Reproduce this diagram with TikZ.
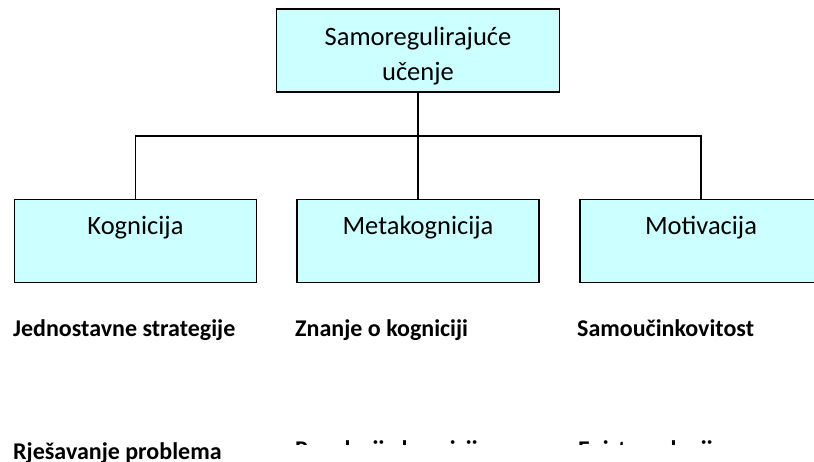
\documentclass[tikz,border=0pt]{standalone}
\usepackage{fontspec}
\setmainfont{Carlito}
\definecolor{boxfill}{RGB}{204,255,255}
\begin{document}
\begin{tikzpicture}[x=1pt,y=-1pt,
  box/.style={draw=black, line width=1.5pt, fill=boxfill, minimum width=242pt,
    minimum height=83pt, inner sep=0pt, font=\fontsize{26.5}{30}\selectfont,
    text height=10pt, text depth=24pt},
  link/.style={draw=black, line width=1.5pt},
  toptext/.style={inner sep=0pt, align=center, font=\fontsize{26.5}{35}\selectfont},
  item/.style={anchor=base west, inner sep=0pt, font=\bfseries\fontsize{24}{28}\selectfont}]
\useasboundingbox (0,0) rectangle (814,461);
% top box
\node[box, minimum width=283pt, text height=0pt, text depth=0pt] (top) at (418,50.5) {};
\node[toptext] (toplabel) at (418,55.5) {\rule{0pt}{20pt}Samoregulirajuće\\učenje\rule[-6pt]{0pt}{6pt}};
% child boxes
\node[box] (kog) at (135.5,241) {Kognicija};
\node[box] (meta) at (418,241) {Metakognicija};
\node[box] (mot) at (701,241) {Motivacija};
% connectors
\coordinate (bus) at (418,136);
\draw[link] (top.south) -- (meta.north);
\draw[link] (kog.north) |- (bus) -| (mot.north);
% items
\node[item] (i1) at (13,336) {Jednostavne strategije};
\node[item] (i2) at (295,336) {Znanje o kogniciji};
\node[item] (i3) at (577,336) {Samoučinkovitost};
\node[item] (i4) at (13,459) {Rješavanje problema};
\begin{scope}
  \clip (280,380) rectangle (814,444);
  \node[item] (i5) at (295,457) {Regulacija kognicije};
  \node[item] (i6) at (578,457) {Epistemologija};
\end{scope}
\end{tikzpicture}
\end{document}
